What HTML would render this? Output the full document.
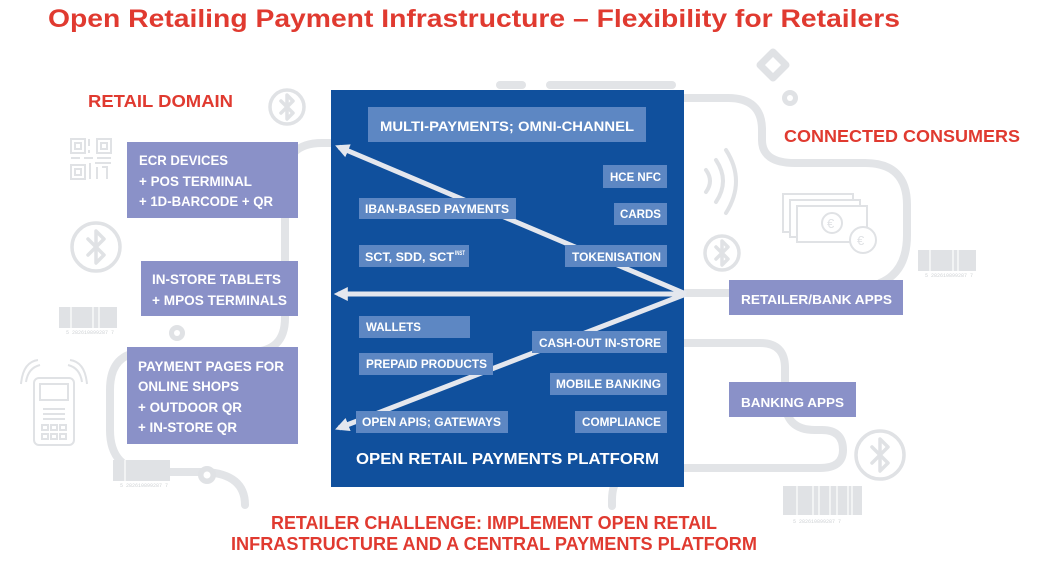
<!DOCTYPE html>
<html><head><meta charset="utf-8"><style>html,body{margin:0;padding:0;background:#fff;width:1055px;height:573px;overflow:hidden}svg{display:block}</style></head>
<body>
<svg width="1055" height="573" viewBox="0 0 1055 573" xmlns="http://www.w3.org/2000/svg" font-family="'Liberation Sans', Arial, sans-serif" font-weight="700">
<defs>
<marker id="ah" viewBox="0 0 10 10" refX="7" refY="5" markerWidth="14" markerHeight="14" markerUnits="userSpaceOnUse" orient="auto"><path d="M0 0 L10 5 L0 10 z" fill="#e4e7ee"/></marker>
</defs>
<rect width="1055" height="573" fill="#fff"/>

<!-- background curves -->
<g fill="none" stroke="#e2e4e7" stroke-width="8" stroke-linecap="round">
<path d="M335 143 H322 Q285 143 285 180 V318 Q285 352 250 352 H145 Q110 352 110 390 V430 Q110 470 150 472 H205 Q245 474 245 505"/>
<path d="M684 98 H728 Q762 98 762 130 V140 Q762 163 795 163 H865 Q907 163 907 205 V235 Q907 272 880 283"/>
<path d="M684 293 H735"/>
<path d="M684 343 H760 Q785 343 785 368 V400 Q785 430 815 430 H822 Q843 430 843 450 Q843 468 820 468 H684"/>
<path d="M684 468 H645 Q612 468 612 500 V506"/>
<path d="M500 85 H522"/>
<path d="M550 85 H672"/>
</g>

<!-- icons -->
<g fill="none" stroke="#e0e2e5" stroke-width="3.5" stroke-linejoin="round" stroke-linecap="round">
<circle cx="287" cy="107" r="17"/>
<path d="M281 101 L293 113 L287 119 V95 L293 101 L281 113"/>
<circle cx="96" cy="247" r="24"/>
<path d="M88 239 L104 255 L96 263 V231 L104 239 L88 255"/>
<circle cx="722" cy="253" r="17"/>
<path d="M716 247 L728 259 L722 265 V241 L728 247 L716 259"/>
<circle cx="880" cy="455" r="24"/>
<path d="M872 447 L888 463 L880 471 V439 L888 447 L872 463"/>
<!-- nfc arcs -->
<path d="M706 170 Q714 181 706 192" stroke-width="4"/>
<path d="M716 160 Q730 181 716 202" stroke-width="4"/>
<path d="M726 150 Q746 181 726 213" stroke-width="4"/>
<!-- diamond -->
<path d="M773 52 L786 65 L773 78 L760 65 Z" stroke-width="7"/>
</g>
<g fill="#e0e2e5">
<circle cx="790" cy="98" r="8"/><circle cx="790" cy="98" r="3" fill="#fff"/>
<circle cx="177" cy="333" r="8"/><circle cx="177" cy="333" r="3" fill="#fff"/>
<circle cx="207" cy="475" r="9"/><circle cx="207" cy="475" r="3.5" fill="#fff"/>
</g>

<!-- QR -->
<g fill="none" stroke="#e0e2e5" stroke-width="2">
<rect x="71" y="139" width="14" height="14"/><rect x="75" y="143" width="6" height="6"/>
<rect x="97" y="139" width="14" height="14"/><rect x="101" y="143" width="6" height="6"/>
<rect x="71" y="165" width="14" height="14"/><rect x="75" y="169" width="6" height="6"/>
<path d="M89 139 V146 M89 150 V153 M71 158 H80 M84 158 H93 M97 158 H111 M90 163 V179 M95 163 H111 M97 167 V179 M102 167 H107 V179"/>
</g>

<!-- terminal -->
<g fill="none" stroke="#e0e2e5" stroke-width="2">
<rect x="34" y="378" width="40" height="67" rx="5"/>
<rect x="40" y="384" width="28" height="16"/>
<rect x="42" y="425" width="6" height="5"/><rect x="51" y="425" width="6" height="5"/><rect x="60" y="425" width="6" height="5"/>
<rect x="42" y="434" width="6" height="5"/><rect x="51" y="434" width="6" height="5"/><rect x="60" y="434" width="6" height="5"/>
<path d="M26 382 Q28 368 40 365 M21 384 Q23 362 38 360"/>
<path d="M82 382 Q80 368 68 365 M87 384 Q85 362 70 360"/>
</g>
<g fill="#e0e2e5"><rect x="43" y="408" width="22" height="2"/><rect x="43" y="413" width="22" height="2"/><rect x="43" y="418" width="22" height="2"/></g>

<!-- money -->
<g fill="#fff" stroke="#e0e2e5" stroke-width="2">
<rect x="783" y="194" width="70" height="38"/>
<rect x="790" y="200" width="70" height="37"/>
<rect x="797" y="206" width="70" height="36"/>
<circle cx="832" cy="223" r="10"/>
<circle cx="863" cy="240" r="13"/>
</g>
<g fill="#e0e2e5" font-size="13" font-weight="400">
<text x="827" y="228">€</text><text x="857" y="245">€</text>
</g>

<!-- barcodes -->
<g fill="#e0e2e5">
<rect x="59" y="307" width="58" height="21"/>
<rect x="918" y="250" width="58" height="21"/>
<rect x="113" y="460" width="57" height="21"/>
<rect x="783" y="486" width="79" height="29"/>
</g>
<g stroke="#fff" stroke-width="1.2">
<path d="M71 307 V328 M93 307 V328 M99 307 V328"/>
<path d="M930 250 V271 M953 250 V271 M958 250 V271"/>
<path d="M125 460 V481"/>
<path d="M797 486 V515 M813 486 V515 M819 486 V515 M830 486 V515 M837 486 V515 M848 486 V515 M852 486 V515"/>
</g>
<g fill="#cfd2d5" font-size="5" font-weight="400" font-family="'Liberation Mono', monospace">
<text x="66" y="334">5 282610899287 7</text>
<text x="925" y="277">5 282610899287 7</text>
<text x="120" y="487">5 282610899287 7</text>
<text x="793" y="523">5 282610899287 7</text>
</g>

<!-- titles -->
<g fill="#e03a30">
<text x="48" y="27" font-size="25" textLength="852" lengthAdjust="spacingAndGlyphs">Open Retailing Payment Infrastructure – Flexibility for Retailers</text>
<text x="88" y="107" font-size="17.5" textLength="145" lengthAdjust="spacingAndGlyphs">RETAIL DOMAIN</text>
<text x="784" y="142" font-size="17.5" textLength="236" lengthAdjust="spacingAndGlyphs">CONNECTED CONSUMERS</text>
<text x="271" y="529" font-size="18" textLength="446" lengthAdjust="spacingAndGlyphs">RETAILER CHALLENGE: IMPLEMENT OPEN RETAIL</text>
<text x="231" y="550" font-size="18" textLength="526" lengthAdjust="spacingAndGlyphs">INFRASTRUCTURE AND A CENTRAL PAYMENTS PLATFORM</text>
</g>

<!-- blue platform -->
<rect x="331" y="90" width="353" height="397" fill="#10509d"/>

<!-- arrows -->
<g stroke="#e4e7ee" stroke-width="5" fill="none">
<path d="M686 294 L339 147" marker-end="url(#ah)"/>
<path d="M686 294 L338 294" marker-end="url(#ah)"/>
<path d="M686 294 L339 428" marker-end="url(#ah)"/>
</g>

<!-- inner boxes -->
<g fill="#5d87c3">
<rect x="368" y="107" width="278" height="35"/>
<rect x="603" y="165" width="64" height="23"/>
<rect x="614" y="203" width="53" height="22"/>
<rect x="359" y="198" width="157" height="21"/>
<rect x="359" y="245" width="110" height="22"/>
<rect x="565" y="245" width="102" height="22"/>
<rect x="359" y="316" width="111" height="22"/>
<rect x="359" y="353" width="134" height="22"/>
<rect x="532" y="331" width="135" height="22"/>
<rect x="550" y="373" width="117" height="22"/>
<rect x="356" y="411" width="152" height="22"/>
<rect x="575" y="411" width="92" height="22"/>
</g>
<g fill="#fff" font-size="11.5">
<text x="380" y="131" font-size="14" textLength="254" lengthAdjust="spacingAndGlyphs">MULTI-PAYMENTS; OMNI-CHANNEL</text>
<text x="610" y="181" textLength="51" lengthAdjust="spacingAndGlyphs">HCE NFC</text>
<text x="620" y="218" textLength="41" lengthAdjust="spacingAndGlyphs">CARDS</text>
<text x="365" y="213" textLength="144" lengthAdjust="spacingAndGlyphs">IBAN-BASED PAYMENTS</text>
<text x="365" y="261" textLength="89" lengthAdjust="spacingAndGlyphs">SCT, SDD, SCT</text>
<text x="455" y="255" font-size="6" textLength="10" lengthAdjust="spacingAndGlyphs">INST</text>
<text x="572" y="261" textLength="89" lengthAdjust="spacingAndGlyphs">TOKENISATION</text>
<text x="366" y="331" textLength="55" lengthAdjust="spacingAndGlyphs">WALLETS</text>
<text x="366" y="368" textLength="121" lengthAdjust="spacingAndGlyphs">PREPAID PRODUCTS</text>
<text x="539" y="347" textLength="122" lengthAdjust="spacingAndGlyphs">CASH-OUT IN-STORE</text>
<text x="556" y="388" textLength="105" lengthAdjust="spacingAndGlyphs">MOBILE BANKING</text>
<text x="362" y="426" textLength="139" lengthAdjust="spacingAndGlyphs">OPEN APIS; GATEWAYS</text>
<text x="582" y="426" textLength="79" lengthAdjust="spacingAndGlyphs">COMPLIANCE</text>
<text x="356" y="464" font-size="16" textLength="303" lengthAdjust="spacingAndGlyphs">OPEN RETAIL PAYMENTS PLATFORM</text>
</g>

<!-- purple boxes -->
<g fill="#8a91c8">
<rect x="127" y="142" width="171" height="76"/>
<rect x="141" y="261" width="157" height="55"/>
<rect x="127" y="347" width="171" height="97"/>
<rect x="729" y="280" width="174" height="35"/>
<rect x="729" y="382" width="127" height="35"/>
</g>
<g fill="#fff" font-size="13.5">
<text x="139" y="165" textLength="89" lengthAdjust="spacingAndGlyphs">ECR DEVICES</text>
<text x="139" y="186" textLength="113" lengthAdjust="spacingAndGlyphs">+ POS TERMINAL</text>
<text x="139" y="206" textLength="134" lengthAdjust="spacingAndGlyphs">+ 1D-BARCODE + QR</text>
<text x="152" y="284" textLength="129" lengthAdjust="spacingAndGlyphs">IN-STORE TABLETS</text>
<text x="152" y="305" textLength="135" lengthAdjust="spacingAndGlyphs">+ MPOS TERMINALS</text>
<text x="138" y="371" textLength="146" lengthAdjust="spacingAndGlyphs">PAYMENT PAGES FOR</text>
<text x="138" y="391" textLength="101" lengthAdjust="spacingAndGlyphs">ONLINE SHOPS</text>
<text x="138" y="412" textLength="104" lengthAdjust="spacingAndGlyphs">+ OUTDOOR QR</text>
<text x="138" y="432" textLength="99" lengthAdjust="spacingAndGlyphs">+ IN-STORE QR</text>
<text x="741" y="304" font-size="13" textLength="151" lengthAdjust="spacingAndGlyphs">RETAILER/BANK APPS</text>
<text x="741" y="407" font-size="13" textLength="103" lengthAdjust="spacingAndGlyphs">BANKING APPS</text>
</g>
</svg>
</body></html>
